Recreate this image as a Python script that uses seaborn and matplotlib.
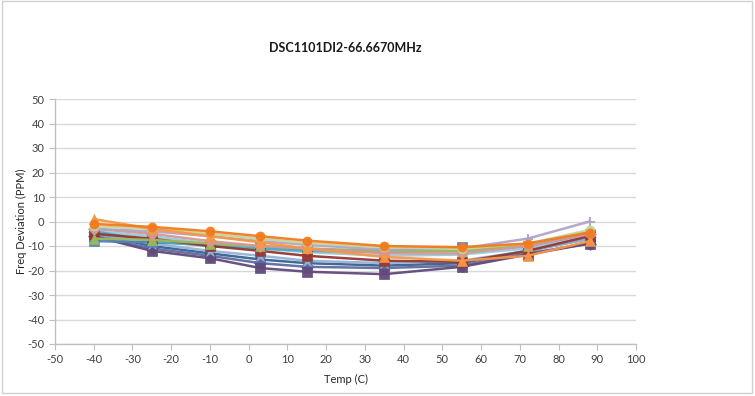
"""Frequency deviation vs temperature for DSC1101DI2 parts, Excel-style line chart."""

import matplotlib

matplotlib.use("Agg")
import matplotlib.pyplot as plt  # noqa: E402
import pandas as pd  # noqa: E402
import seaborn as sns  # noqa: E402

TITLE = "DSC1101DI2-66.6670MHz"
temps = [-40, -25, -10, 3, 15, 35, 55, 72, 88]

# one list per part (ppm)
part_01 = [-1.0, -2.2, -4.0, -6.0, -7.8, -10.0, -10.5, -9.0, -4.5]
part_02 = [1.0, -3.0, -6.0, -8.5, -11.0, -14.5, -16.0, -14.0, -8.0]
part_03 = [-2.0, -3.0, -5.0, -7.0, -8.8, -10.5, -11.2, -9.0, -3.5]
part_04 = [-3.0, -4.0, -6.0, -8.0, -9.5, -11.5, -11.0, -7.0, 0.0]
part_05 = [-7.0, -7.5, -9.0, -10.0, -11.0, -12.0, -12.0, -10.0, -4.0]
part_06 = [-5.0, -7.0, -10.0, -12.0, -14.0, -16.0, -16.5, -12.0, -6.0]
part_07 = [-4.0, -8.0, -10.0, -11.0, -12.0, -12.5, -12.0, -10.0, -5.0]
part_08 = [-8.0, -8.5, -9.5, -10.5, -11.5, -12.0, -10.5, -10.0, -5.0]
part_09 = [-5.0, -9.0, -12.0, -14.0, -16.0, -17.0, -16.0, -12.0, -7.0]
part_10 = [-6.0, -12.0, -15.0, -19.0, -20.5, -21.5, -18.5, -13.5, -9.0]
part_11 = [-6.0, -11.0, -14.0, -17.0, -18.5, -19.0, -18.0, -13.0, -9.0]
part_12 = [-3.0, -5.0, -8.0, -10.0, -11.0, -13.0, -13.0, -10.0, -5.0]
part_13 = [-5.0, -10.0, -13.0, -15.5, -17.0, -18.0, -17.0, -12.0, -7.0]
part_14 = [-4.0, -6.0, -9.0, -11.0, -12.5, -14.0, -13.5, -11.0, -6.0]

parts = [part_13, part_11, part_10, part_09, part_08, part_14, part_07, part_06,
         part_05, part_12, part_04, part_03, part_02, part_01]
colors = ["#376092", "#5F6B9E", "#604A7B", "#95B3D7", "#4F81BD", "#93CDDD",
          "#4BACC6", "#953735", "#9BBB59", "#D99694", "#B3A2C7", "#C3D69B",
          "#F79646", "#F27A1E"]
markers = ["X", "D", "s", "*", "s", "o", "X", "s", "^", "D", "+", "o", "^", "o"]

df = pd.concat(
    [pd.DataFrame({"temp": temps, "ppm": vals, "part": f"P{i + 1}"})
     for i, vals in enumerate(parts)],
    ignore_index=True,
)

sns.set_style("white")
plt.rcParams["font.family"] = ["Lato", "DejaVu Sans"]
plt.rcParams["axes.unicode_minus"] = False

fig = plt.figure(figsize=(7.55, 3.96), dpi=100)
ax = fig.add_axes([55 / 755, 52 / 396, 581 / 755, 245 / 396])

for (name, grp), col, mk in zip(df.groupby("part", sort=False), colors, markers):
    sns.lineplot(data=grp, x="temp", y="ppm", color=col, marker=mk,
                 markersize=6.5 if mk != "*" else 9, markeredgecolor=col,
                 markeredgewidth=1.5 if mk == "+" else 0.5,
                 linewidth=1.8, alpha=0.95, ax=ax, legend=False)

ax.set_xlim(-50, 100)
ax.set_ylim(-50, 50)
ax.set_xticks(range(-50, 101, 10))
ax.set_yticks(range(-50, 51, 10))
ax.yaxis.grid(True, color="#D9D9D9", linewidth=1)
ax.xaxis.grid(False)
ax.set_axisbelow(True)
for side in ("top", "right"):
    ax.spines[side].set_visible(False)
for side in ("left", "bottom"):
    ax.spines[side].set_color("#BFBFBF")
    ax.spines[side].set_linewidth(1)
ax.tick_params(axis="both", length=4, color="#BFBFBF", labelsize=8,
               labelcolor="#404040", direction="out", bottom=True, left=True)
ax.set_xlabel("Temp (C)", fontsize=8, color="#262626", labelpad=6)
ax.set_ylabel("Freq Deviation (PPM)", fontsize=8, color="#262626", labelpad=0)

fig.text(0.457, 0.879, TITLE, ha="center", va="center", fontsize=9,
         fontweight="bold", color="#1a1a1a")

fig.patches.append(plt.Rectangle((2 / 755, 3 / 396), 750 / 755, 392 / 396,
                                 transform=fig.transFigure, fill=False,
                                 edgecolor="#D0D0D0", linewidth=1))

fig.savefig("out.png", dpi=100)
plt.close(fig)
